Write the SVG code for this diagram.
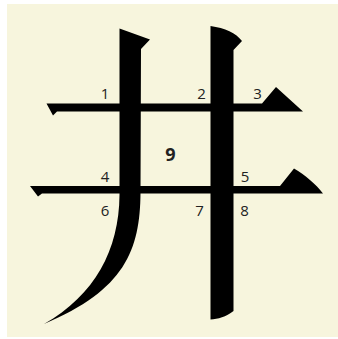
<svg xmlns="http://www.w3.org/2000/svg" width="338" height="339" viewBox="0 0 338 339">
  <style>
    .stroke { fill: #000; }
    .lbl { font-family: "Open Sans", "Noto Sans", "DejaVu Sans", sans-serif; font-size: 15px; fill: #222; text-anchor: middle; }
    .big { font-size: 18px; font-weight: bold; }
  </style>
  <rect x="0" y="0" width="338" height="339" fill="#ffffff"/>
  <rect x="7" y="4" width="331" height="333" fill="#F7F5DD"/>
  <g id="strokes">
    <path id="h1" class="stroke" d="M46.5,103.5 L262,103.5 L276,87 L303,111.5 L57,111.5 L53,115.5 Z"/>
    <path id="h2" class="stroke" d="M30,186 L280,186 L294,168.5 C305,175 316,184 323,193.5 L42,193.5 L38,196.5 Z"/>
    <path id="v1" class="stroke" d="M119.5,28.5 L150,39.5 L141,49 L140.5,193 C140,250 125,290 44,324 C95,295 119,250 119.5,195 Z"/>
    <path id="v2" class="stroke" d="M210.5,26 C225,28 236,33 242,41 L233.5,50 L233.5,311 C226,317 218,319 210.5,319.5 Z"/>
  </g>
  <g id="labels">
    <text class="lbl" x="105" y="99">1</text>
    <text class="lbl" x="201.5" y="99">2</text>
    <text class="lbl" x="257.5" y="99">3</text>
    <text class="lbl big" x="170.5" y="160.5">9</text>
    <text class="lbl" x="105" y="182">4</text>
    <text class="lbl" x="245" y="182">5</text>
    <text class="lbl" x="105" y="215.5">6</text>
    <text class="lbl" x="199.5" y="215.5">7</text>
    <text class="lbl" x="244.5" y="215.5">8</text>
  </g>
</svg>
